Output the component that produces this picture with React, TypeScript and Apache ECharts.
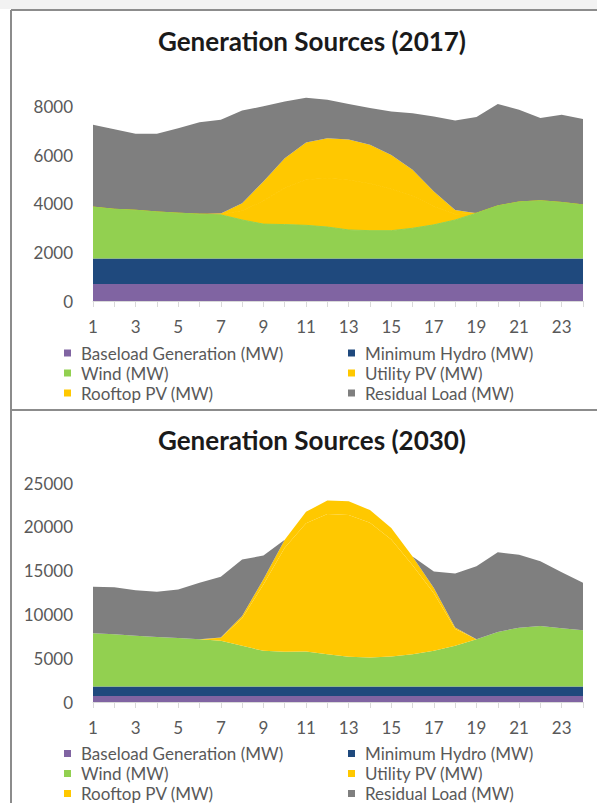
import React, { useEffect, useRef } from "react";
import * as echarts from "echarts";

const hours = ["1","2","3","4","5","6","7","8","9","10","11","12","13","14","15","16","17","18","19","20","21","22","23","24"];
const seriesNames = ["Baseload Generation (MW)", "Minimum Hydro (MW)", "Wind (MW)", "Utility PV (MW)", "Rooftop PV (MW)", "Residual Load (MW)"];
const seriesColors = ["#8064a2", "#1f497d", "#92d050", "#ffc800", "#ffc800", "#7f7f7f"];

const base2017 = [700,700,700,700,700,700,700,700,700,700,700,700,700,700,700,700,700,700,700,700,700,700,700,700];
const hydro2017 = [1050,1050,1050,1050,1050,1050,1050,1050,1050,1050,1050,1050,1050,1050,1050,1050,1050,1050,1050,1050,1050,1050,1050,1050];
const wind2017 = [2110,2020,1980,1910,1860,1820,1790,1580,1410,1390,1360,1290,1170,1140,1140,1240,1380,1580,1860,2160,2320,2370,2300,2200];
const utility2017 = [0,0,0,0,0,0,30,380,960,1500,1870,2010,2050,1940,1710,1320,750,230,0,0,0,0,0,0];
const rooftop2017 = [0,0,0,0,0,0,30,310,790,1230,1530,1640,1670,1590,1400,1080,620,180,0,0,0,0,0,0];
const residual2017 = [3380,3290,3140,3210,3490,3780,3850,3810,3090,2330,1840,1580,1460,1510,1790,2330,3080,3680,3950,4190,3790,3400,3600,3530];

const base2030 = [680,680,680,680,680,680,680,680,680,680,680,680,680,680,680,680,680,680,680,680,680,680,680,680];
const hydro2030 = [1080,1080,1080,1080,1080,1080,1080,1080,1080,1080,1080,1080,1080,1080,1080,1080,1080,1080,1080,1080,1080,1080,1080,1080];
const wind2030 = [6090,5980,5790,5670,5560,5410,5220,4650,4080,3970,4010,3700,3400,3330,3440,3700,4080,4650,5410,6240,6730,6920,6660,6430];
const utility2030 = [0,0,0,0,0,0,350,3150,7570,11880,14640,16000,16200,15370,13360,10150,6570,1920,0,0,0,0,0,0];
const rooftop2030 = [0,0,0,0,0,0,30,250,600,900,1300,1550,1550,1450,1300,1000,600,180,0,0,0,0,0,0];
const residual2030 = [5310,5370,5220,5160,5530,6440,6930,6450,2700,0,0,0,0,0,0,0,1900,6160,8340,9090,8320,7390,6390,5420];

const yTicks2017 = [0, 2000, 4000, 6000, 8000];
const yTicks2030 = [0, 5000, 10000, 15000, 20000, 25000];

const FONT = "Lato";
const LABEL_COLOR = "#595959";

export default function App() {
  const ref = useRef<HTMLDivElement>(null);
  useEffect(() => {
    if (!ref.current) return;
    const chart = echarts.init(ref.current, undefined, { renderer: "svg" });
    const sets = [
      [base2017, hydro2017, wind2017, utility2017, rooftop2017, residual2017],
      [base2030, hydro2030, wind2030, utility2030, rooftop2030, residual2030],
    ];
    const series: any[] = [];
    sets.forEach((set, gi) => {
      set.forEach((data, si) => {
        const seamCover = gi === 0 && si === 3;
        const windCover = gi === 0 && si === 2;
        series.push({
          type: "line",
          name: seriesNames[si],
          xAxisIndex: gi,
          yAxisIndex: gi,
          stack: "s" + gi,
          data,
          z: windCover ? 3 : 2,
          symbol: "none",
          showSymbol: false,
          lineStyle: seamCover || windCover ? { width: 1, color: seriesColors[si] } : { width: 0 },
          itemStyle: { color: seriesColors[si] },
          areaStyle: { color: seriesColors[si], opacity: 1 },
          emphasis: { disabled: true },
        });
      });
    });
    const yTicksList = [yTicks2017, yTicks2030];
    const legendBase = {
      orient: "vertical",
      icon: "rect",
      itemWidth: 7,
      itemHeight: 7,
      itemGap: 3,
      padding: 0,
      selectedMode: false,
      textStyle: { fontFamily: FONT, fontSize: 17, color: LABEL_COLOR, lineHeight: 17, padding: [0, 0, 0, 5] },
    };
    const legends: any[] = [];
    [344.5, 745].forEach((top) => {
      legends.push({ ...legendBase, left: 64, top, data: [seriesNames[0], seriesNames[2], seriesNames[4]] });
      legends.push({ ...legendBase, left: 348, top, data: [seriesNames[1], seriesNames[3], seriesNames[5]] });
    });
    const titleStyle = { fontFamily: FONT, fontSize: 26, fontWeight: "bold", color: "#1a1a1a" };
    const option: any = {
      animation: false,
      backgroundColor: "#ffffff",
      title: [
        { text: "Generation Sources (2017)", left: 312, top: 28, textAlign: "center", padding: 0, textStyle: titleStyle },
        { text: "Generation Sources (2030)", left: 312, top: 427, textAlign: "center", padding: 0, textStyle: titleStyle },
      ],
      legend: legends,
      grid: [
        { left: 93, top: 82, width: 490, height: 219, containLabel: false },
        { left: 93, top: 483, width: 490, height: 219, containLabel: false },
      ],
      xAxis: [0, 1].map((i) => ({
        type: "category",
        gridIndex: i,
        data: hours,
        boundaryGap: false,
        axisLine: { lineStyle: { color: "#d9d9d9", width: 1 } },
        axisTick: { show: true, interval: 0, length: 6, lineStyle: { color: "#d9d9d9" } },
        axisLabel: { interval: 1, margin: 17, fontFamily: FONT, fontSize: 17, color: LABEL_COLOR },
        splitLine: { show: false },
      })),
      yAxis: [0, 1].map((i) => {
        const ticks = yTicksList[i];
        const step = ticks[1] - ticks[0];
        return {
          type: "value",
          gridIndex: i,
          min: 0,
          max: i === 0 ? 9000 : ticks[ticks.length - 1],
          interval: step,
          axisLine: { show: false },
          axisTick: { show: false },
          splitLine: { show: false },
          axisLabel: {
            margin: 20,
            showMaxLabel: i === 1,
            fontFamily: FONT,
            fontSize: 17,
            color: LABEL_COLOR,
            formatter: (v: number) => (ticks.indexOf(v) >= 0 ? String(v) : ""),
          },
        };
      }),
      series,
      graphic: [
        { type: "rect", shape: { x: 0, y: 0, width: 597, height: 9 }, style: { fill: "#f2f2f2" }, silent: true },
        { type: "line", shape: { x1: 11, y1: 10, x2: 597, y2: 10 }, style: { stroke: "#8c8c8c", lineWidth: 2 }, silent: true },
        { type: "line", shape: { x1: 11, y1: 10, x2: 11, y2: 803 }, style: { stroke: "#8c8c8c", lineWidth: 2 }, silent: true },
        { type: "line", shape: { x1: 11, y1: 410, x2: 597, y2: 410 }, style: { stroke: "#8c8c8c", lineWidth: 2 }, silent: true },
      ],
    };
    chart.setOption(option);
    return () => chart.dispose();
  }, []);
  return <div ref={ref} style={{ position: "absolute", left: 0, top: 0, width: 597, height: 803 }} />;
}
